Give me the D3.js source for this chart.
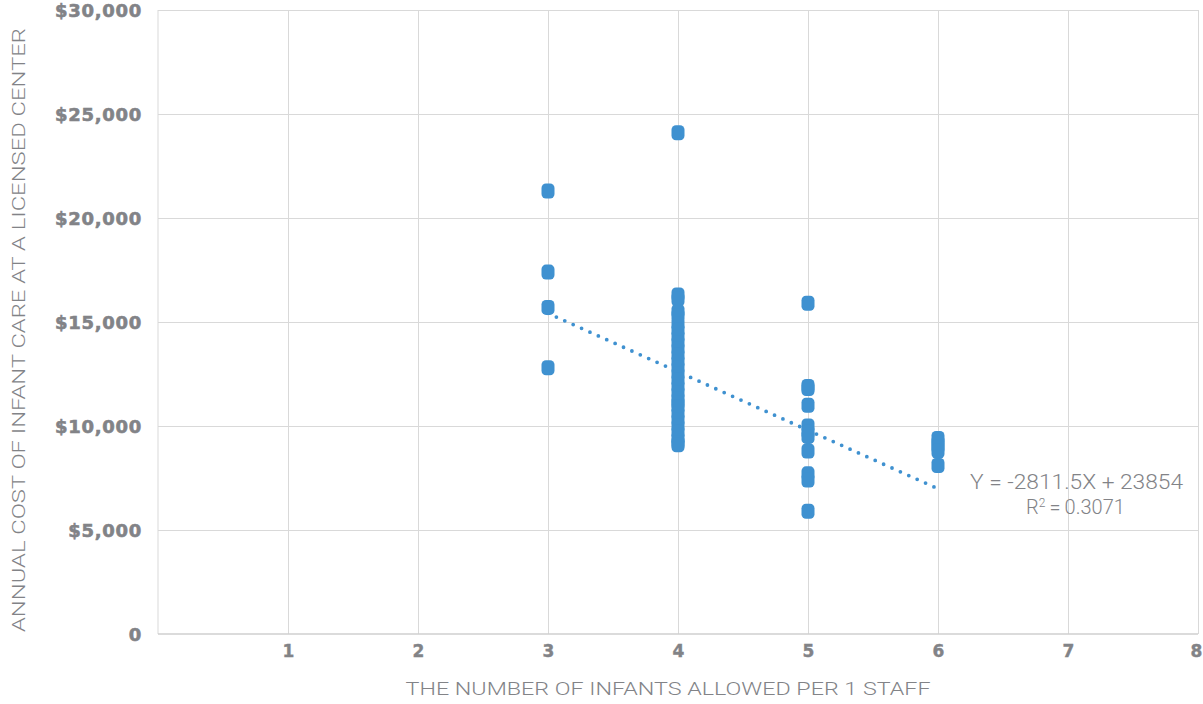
<!DOCTYPE html>
<html>
<head>
<meta charset="utf-8">
<script src="https://cdn.jsdelivr.net/npm/d3@7"></script>
<style>
  html, body { margin: 0; padding: 0; background: #fff; }
  svg { display: block; }
</style>
</head>
<body>
<svg id="chart" width="1203" height="704"></svg>
<script>
// Staff ratio (infants per staff member) and annual cost of care
const ratio3 = [21300, 17400, 15700, 12800];
const ratio4 = [24100, 16300, 16100, 15500, 15300, 14900, 14600, 14300, 14000, 13700,
                13400, 13100, 12800, 12500, 12200, 11900, 11600, 11300, 11100, 10900,
                10600, 10300, 10000, 9700, 9400, 9200, 9100];
const ratio5 = [15900, 11900, 11800, 11000, 10000, 9700, 9500, 8800, 7700, 7400, 5900];
const ratio6 = [9400, 9200, 9000, 8800, 8100];

const groups = [
  { ratio: 3, costs: ratio3 },
  { ratio: 4, costs: ratio4 },
  { ratio: 5, costs: ratio5 },
  { ratio: 6, costs: ratio6 }
];

// Linear trend fitted over ratios 3..6
const trendSlope = -2811.5;
const trendIntercept = 23854;
const trendRange = [3, 6];
const trendLabel = "Y = -2811.5X + 23854";
const r2Label = "0.3071";

const xTicks = [1, 2, 3, 4, 5, 6, 7, 8];
const yTicks = [0, 5000, 10000, 15000, 20000, 25000, 30000];

const points = groups.flatMap(g => g.costs.map(c => ({ x: g.ratio, y: c })));

const svg = d3.select("#chart");
const x = d3.scaleLinear().domain([0, 8]).range([158, 1198]);
const y = d3.scaleLinear().domain([0, 30000]).range([634, 10]);

const grey = "#828387";
const gridColor = "#d9d9d9";
const blue = "#3f91d0";

// Gridlines
svg.append("g")
  .attr("transform", `translate(158,0)`)
  .call(d3.axisLeft(y).tickValues(yTicks.filter(v => v > 0)).tickSize(-(1198 - 158)).tickFormat(""))
  .call(g => g.select(".domain").remove())
  .call(g => g.selectAll("line").attr("stroke", gridColor).attr("stroke-width", 1));

svg.append("g")
  .attr("transform", `translate(0,634)`)
  .call(d3.axisBottom(x).tickValues(xTicks).tickSize(-(634 - 10)).tickFormat(""))
  .call(g => g.select(".domain").remove())
  .call(g => g.selectAll("line").attr("stroke", gridColor).attr("stroke-width", 1));

// Axis lines
svg.append("line")
  .attr("x1", x(0)).attr("x2", x(0)).attr("y1", y(30000)).attr("y2", y(0))
  .attr("stroke", gridColor).attr("stroke-width", 1);
svg.append("line")
  .attr("x1", x(0)).attr("x2", x(8)).attr("y1", y(0)).attr("y2", y(0))
  .attr("stroke", "#cfcfcf").attr("stroke-width", 1.6);

// Y tick labels (heavy weight)
const yAxis = svg.append("g")
  .attr("transform", `translate(142,0)`)
  .call(d3.axisLeft(y).tickValues(yTicks).tickSize(0)
    .tickFormat(v => v === 0 ? "0" : "$" + d3.format(",")(v)));
yAxis.select(".domain").remove();
yAxis.selectAll("text")
  .attr("x", 0)
  .attr("dy", "0.36em")
  .attr("fill", grey)
  .attr("stroke", grey)
  .attr("stroke-width", 0.6)
  .style("font-family", "'DejaVu Sans', sans-serif")
  .style("font-weight", "bold")
  .style("font-size", "18px")
  .style("letter-spacing", "0.7px");

// X tick labels
const xAxis = svg.append("g")
  .attr("transform", `translate(0,634)`)
  .call(d3.axisBottom(x).tickValues(xTicks).tickSize(0).tickFormat(d3.format("d")));
xAxis.select(".domain").remove();
xAxis.selectAll("text")
  .attr("y", 11)
  .attr("fill", grey)
  .attr("stroke", grey)
  .attr("stroke-width", 0.4)
  .style("font-family", "'DejaVu Sans', sans-serif")
  .style("font-weight", "bold")
  .style("font-size", "17px");
// keep the last label inside the frame
xAxis.selectAll(".tick").filter(d => d === 8).select("text").attr("x", -2);

// Axis titles
svg.append("text")
  .attr("x", 668).attr("y", 695)
  .attr("text-anchor", "middle")
  .attr("fill", grey)
  .style("font-family", "'Roboto', sans-serif")
  .style("font-weight", 300)
  .style("font-size", "18px")
  .attr("textLength", 525)
  .attr("lengthAdjust", "spacingAndGlyphs")
  .text("THE NUMBER OF INFANTS ALLOWED PER 1 STAFF");

svg.append("text")
  .attr("transform", `translate(25,330) rotate(-90)`)
  .attr("text-anchor", "middle")
  .attr("fill", grey)
  .style("font-family", "'Roboto', sans-serif")
  .style("font-weight", 300)
  .style("font-size", "18.5px")
  .attr("textLength", 604)
  .attr("lengthAdjust", "spacingAndGlyphs")
  .text("ANNUAL COST OF INFANT CARE AT A LICENSED CENTER");

// Trend line (dotted)
const trendData = trendRange.map(r => ({ x: r, y: trendSlope * r + trendIntercept }));
svg.append("path")
  .datum(trendData)
  .attr("d", d3.line().x(d => x(d.x)).y(d => y(d.y)))
  .attr("fill", "none")
  .attr("stroke", blue)
  .attr("stroke-width", 3.8)
  .attr("stroke-linecap", "round")
  .attr("stroke-dasharray", "0 9.2");

// Markers
const mw = 13, mh = 15;
svg.append("g").selectAll("rect")
  .data(points)
  .join("rect")
  .attr("x", d => x(d.x) - mw / 2)
  .attr("y", d => y(d.y) - mh / 2)
  .attr("width", mw)
  .attr("height", mh)
  .attr("rx", 4.5)
  .attr("ry", 4.5)
  .attr("fill", blue);

// Trend equation
const eqStyle = sel => sel
  .attr("fill", grey)
  .style("font-family", "'Roboto', sans-serif")
  .style("font-weight", 300)
  .style("font-size", "20px");

svg.append("text")
  .call(eqStyle)
  .attr("x", 970).attr("y", 489)
  .attr("textLength", 213)
  .attr("lengthAdjust", "spacingAndGlyphs")
  .text(trendLabel);

const r2 = svg.append("text")
  .call(eqStyle)
  .attr("x", 1026).attr("y", 514);
r2.append("tspan").text("R");
r2.append("tspan").attr("dy", -7).style("font-size", "12px").text("2");
r2.append("tspan").attr("dy", 7).text("\u2009=\u2009" + r2Label);
</script>
</body>
</html>
